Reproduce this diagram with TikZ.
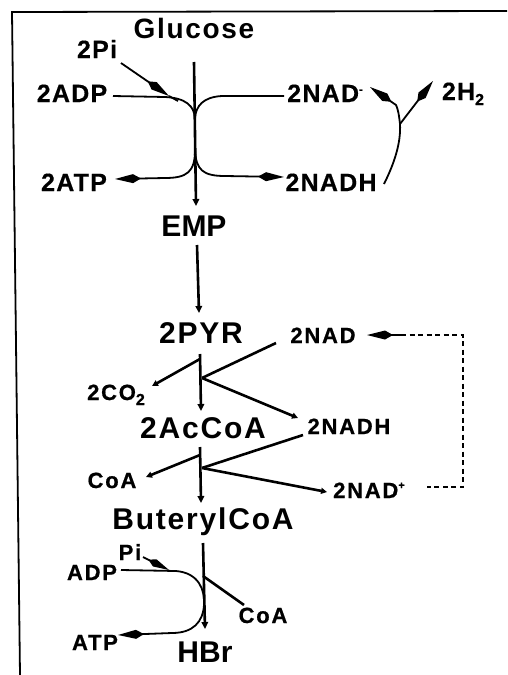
\documentclass[tikz,border=0pt]{standalone}
\usepackage{fontspec}
\setmainfont{Liberation Sans}
\newfontfamily\bigfont[LetterSpace=6]{Liberation Sans}
\newfontfamily\plainfont{Liberation Sans}
\newfontfamily\smfont[LetterSpace=5,BoldFeatures={FakeBold=0.4}]{Liberation Sans}
\newfontfamily\lowfont[LetterSpace=8,BoldFeatures={FakeBold=0.7}]{Liberation Sans}
\usetikzlibrary{arrows.meta}
\newcommand{\supmark}[1]{\raisebox{9pt}{\fontsize{11}{11}\selectfont #1}}
\newcommand{\subtwo}{\raisebox{-5pt}{\fontsize{16}{16}\selectfont 2}}
\begin{document}
\begin{tikzpicture}[x=1pt,y=-1pt,
  big/.style={font=\bigfont\bfseries\fontsize{30}{30}\selectfont, inner sep=0pt, anchor=base},
  bigp/.style={font=\plainfont\bfseries\fontsize{30}{30}\selectfont, inner sep=0pt, anchor=base},
  lab/.style={font=\smfont\bfseries\fontsize{25}{25}\selectfont, inner sep=0pt, anchor=base},
  labs/.style={font=\lowfont\bfseries\fontsize{22}{22}\selectfont, inner sep=0pt, anchor=base},
  rx/.style={line width=2.6pt, -{Triangle[length=7pt,width=6.5pt]}},
  sa/.style={line width=2.6pt, -{Triangle[length=6pt,width=6pt]}},
  thk/.style={line width=2.6pt},
  ln/.style={line width=1.8pt},
  sp/.style={line width=1.8pt, -{Kite[length=26pt,width=9pt,inset=8pt]}},
  sps/.style={line width=1.8pt, -{Kite[length=23pt,width=8pt,inset=7pt]}},
  dsh/.style={line width=1.5pt, dash pattern=on 5pt off 3.5pt}
]
\useasboundingbox (0,0) rectangle (507,675);
\fill[white] (0,0) rectangle (507,675);
% frame
\coordinate (fr1) at (507,11);
\coordinate (fr2) at (12,12);
\coordinate (fr3) at (20,675);
\draw[line width=1.8pt] (fr1) -- (fr2) -- (fr3);

% ---- labels ----
\node[big]  (glc)  at (194,38)  {\fontsize{28}{28}\selectfont Glucose};
\node[lab]  (pi2)  at (97,58)   {2Pi};
\node[lab]  (adp2) at (72,102)  {2ADP};
\node[lab]  (nadA) at (325,102) {2NAD\supmark{-}};
\node[lab]  (h2)   at (463,100) {2H\subtwo};
\node[lab]  (atp2) at (74,191)  {2ATP};
\node[lab]  (nadhA) at (331,191) {2NADH};
\node[bigp] (emp)  at (194,236) {EMP};
\node[big]  (pyr)  at (201,343) {2PYR};
\node[labs] (nadB) at (323,343) {2NAD};
\node[labs] (co2)  at (116,400) {2CO\subtwo};
\node[big]  (acc)  at (203,438) {2AcCoA};
\node[labs] (nadhB) at (349,434) {2NADH};
\node[labs] (coaA) at (112,488) {CoA};
\node[labs] (nadC) at (369,498) {2NAD\supmark{+}};
\node[big]  (but)  at (203,529) {ButerylCoA};
\node[labs] (pi)   at (130,560) {Pi};
\node[labs] (adp)  at (92,580)  {ADP};
\node[labs] (coaB) at (263,623) {CoA};
\node[labs] (atp)  at (95,650)  {ATP};
\node[bigp] (hbr)  at (205,662) {HBr};

% ---- glycolysis ----
\coordinate (gTop) at (194,62);
\coordinate (gBot) at (196,206);
\coordinate (jTop) at (195,118);
\coordinate (jBot) at (195,150);
\coordinate (adpE) at (113,96);
\coordinate (nadAW) at (284,96);
\coordinate (piS) at (121,63);
\coordinate (piT) at (169,96);
\coordinate (piJ) at (178,101);
\coordinate (atpT) at (115,179);
\coordinate (nadhT) at (284,177);
\draw[rx] (gTop) -- (gBot);
\draw[ln] (adpE) -- (165,97) .. controls (186,98) and (194,106) .. (jTop);
\draw[ln] (nadAW) -- (222,96) .. controls (203,97) and (196,106) .. (jTop);
\draw[ln] (jTop) -- (jBot);
\draw[sp] (piS) -- (piT);
\draw[ln] (piT) -- (piJ);
\draw[sp] (jBot) .. controls (195,172) and (187,178) .. (165,178) -- (atpT);
\draw[sp] (jBot) .. controls (196,170) and (203,176) .. (225,176) -- (nadhT);

% ---- right loop ----
\coordinate (loopB) at (384,184);
\coordinate (br) at (400,124);
\coordinate (nadAT) at (370,87);
\coordinate (h2T) at (433,81);
\draw[ln] (loopB) .. controls (395,162) and (401,142) .. (br);
\draw[sp] (br) .. controls (399,115) and (398,109) .. (396,105) -- (nadAT);
\draw[sp] (br) -- (h2T);

% ---- EMP -> 2PYR ----
\coordinate (e1) at (197,245);
\coordinate (e2) at (199,313);
\draw[rx] (e1) -- (e2);

% ---- 2PYR -> 2AcCoA ----
\coordinate (p1) at (200,354);
\coordinate (p2) at (201,411);
\coordinate (p3) at (200,359);
\coordinate (co2T) at (152,386);
\coordinate (nadBS) at (276,343);
\coordinate (p4) at (202,378);
\coordinate (nadhBT) at (298,418);
\draw[rx] (p1) -- (p2);
\draw[sa] (p3) -- (co2T);
\draw[thk] (nadBS) -- (p4);
\draw[sa] (p4) -- (nadhBT);

% ---- dashed recycle ----
\coordinate (dB) at (401,335);
\coordinate (nadBT) at (367,335);
\coordinate (dR) at (463,335);
\coordinate (dE) at (427,487);
\draw[sp] (dB) -- (nadBT);
\draw[dsh] (dB) -- (dR) -- (463,487) -- (dE);

% ---- 2AcCoA -> ButerylCoA ----
\coordinate (a1) at (200,447);
\coordinate (a2) at (201,503);
\coordinate (a3) at (200,455);
\coordinate (coaAT) at (146,477);
\coordinate (nadhBS) at (303,435);
\coordinate (a4) at (202,468);
\coordinate (nadCT) at (327,492);
\draw[rx] (a1) -- (a2);
\draw[sa] (a3) -- (coaAT);
\draw[thk] (nadhBS) -- (a4);
\draw[sa] (a4) -- (nadCT);

% ---- ButerylCoA -> HBr ----
\coordinate (b1) at (203,543);
\coordinate (b2) at (205,629);
\coordinate (b3) at (203,576);
\coordinate (coaBS) at (244,605);
\coordinate (adpE2) at (121,570);
\coordinate (atpT2) at (118,635);
\coordinate (piS2) at (143,557);
\coordinate (piT2) at (169,570);
\draw[rx] (b1) -- (b2);
\draw[thk] (b3) -- (coaBS);
\draw[sp] (adpE2) -- (176,571) .. controls (199,573) and (205,590) .. (204,605)
   .. controls (203,622) and (193,633) .. (172,633) -- (atpT2);
\draw[sps] (piS2) -- (piT2);
\end{tikzpicture}
\end{document}
